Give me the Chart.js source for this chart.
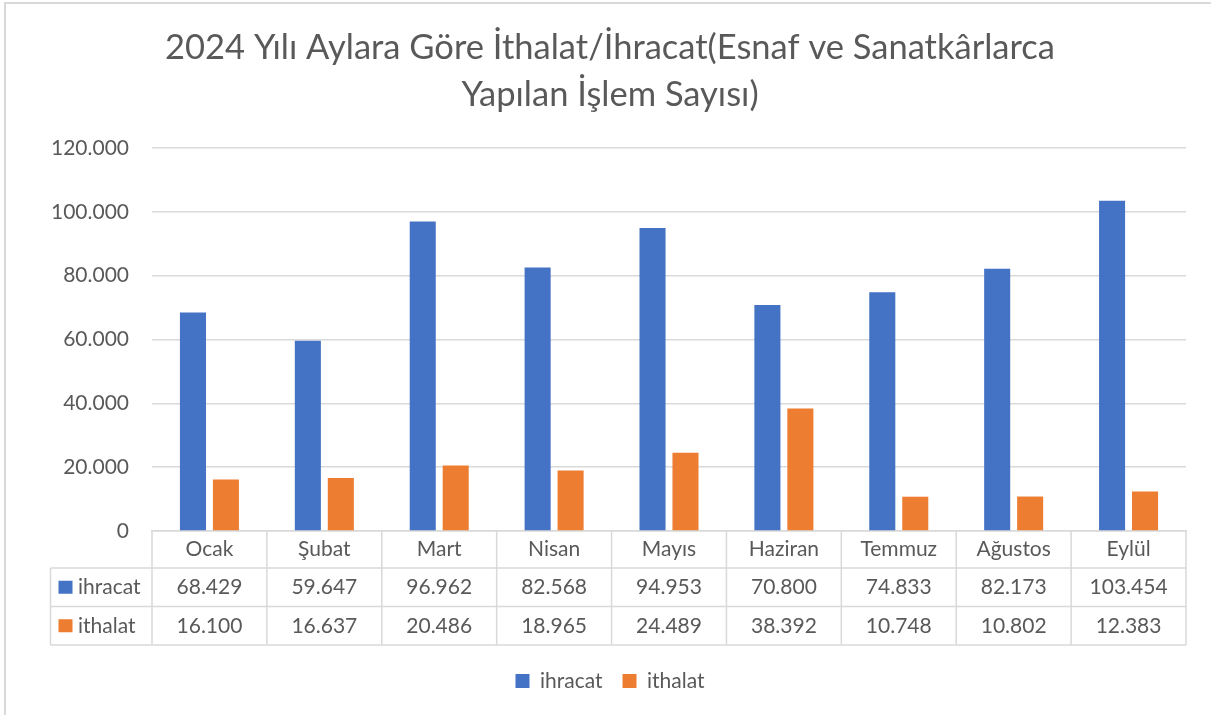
<!DOCTYPE html>
<html>
<head>
<meta charset="utf-8">
<script src="https://cdn.jsdelivr.net/npm/chart.js@4"></script>
<style>
  html, body { margin: 0; padding: 0; background: #fff; }
</style>
</head>
<body>
<canvas id="myChart" width="1211" height="715"></canvas>
<script>
// veriler
var aylar = ['Ocak', 'Şubat', 'Mart', 'Nisan', 'Mayıs', 'Haziran', 'Temmuz', 'Ağustos', 'Eylül'];
var ihracat = [68429, 59647, 96962, 82568, 94953, 70800, 74833, 82173, 103454];
var ithalat = [16100, 16637, 20486, 18965, 24489, 38392, 10748, 10802, 12383];
var seriAdlari = ['ihracat', 'ithalat'];
var renkler = ['#4472C4', '#ED7D31'];
var baslik = ['2024 Yılı Aylara Göre İthalat/İhracat(Esnaf ve Sanatkârlarca', 'Yapılan İşlem Sayısı)'];

var yazi = '#595959';
var cizgi = '#d9d9d9';

function noktali(v) {
    return String(v).replace(/\B(?=(\d{3})+(?!\d))/g, '.');
}

Chart.defaults.font.family = 'Lato';

// Excel'deki veri tablosu ve çerçeve
var tabloPlugin = {
    id: 'veriTablosu',
    afterDraw: function(chart) {
        var ctx = chart.ctx;
        var ca = chart.chartArea;
        var x = chart.scales.x;
        var n = aylar.length;
        var yarim = (x.getPixelForValue(1) - x.getPixelForValue(0)) / 2;
        var solKenar = 50.5;
        var y0 = ca.bottom, y1 = y0 + 37, y2 = y1 + 38.5, y3 = y2 + 38.5;

        ctx.save();
        ctx.strokeStyle = cizgi;
        ctx.lineWidth = 1.5;
        ctx.beginPath();
        for (var i = 0; i <= n; i++) {
            var bx = i < n ? x.getPixelForValue(i) - yarim : x.getPixelForValue(n - 1) + yarim;
            ctx.moveTo(bx, y0);
            ctx.lineTo(bx, y3);
        }
        ctx.moveTo(solKenar, y1); ctx.lineTo(solKenar, y3);
        [y1, y2, y3].forEach(function(yy) {
            ctx.moveTo(solKenar, yy);
            ctx.lineTo(ca.right, yy);
        });
        ctx.stroke();

        ctx.font = '21px Lato';
        ctx.fillStyle = yazi;
        ctx.textBaseline = 'middle';
        ctx.textAlign = 'center';
        aylar.forEach(function(a, i) {
            var cx = x.getPixelForValue(i);
            ctx.fillText(a, cx, (y0 + y1) / 2);
            ctx.fillText(noktali(ihracat[i]), cx, (y1 + y2) / 2);
            ctx.fillText(noktali(ithalat[i]), cx, (y2 + y3) / 2);
        });

        ctx.textAlign = 'left';
        [[y1, y2], [y2, y3]].forEach(function(r, k) {
            var my = (r[0] + r[1]) / 2;
            ctx.fillStyle = renkler[k];
            ctx.fillRect(58.5, my - 6.5, 14, 13);
            ctx.fillStyle = yazi;
            ctx.fillText(seriAdlari[k], 78, my);
        });

        // grafik çerçevesi (üst ve sol)
        ctx.strokeStyle = cizgi;
        ctx.lineWidth = 2;
        ctx.beginPath();
        ctx.moveTo(5, 715);
        ctx.lineTo(5, 3);
        ctx.lineTo(1211, 3);
        ctx.stroke();
        ctx.restore();
    }
};

var data = {
    labels: aylar,
    datasets: [{
        label: seriAdlari[0],
        data: ihracat,
        backgroundColor: renkler[0],
        categoryPercentage: 0.574,
        barPercentage: 0.79
    }, {
        label: seriAdlari[1],
        data: ithalat,
        backgroundColor: renkler[1],
        categoryPercentage: 0.574,
        barPercentage: 0.79
    }]
};

var options = {
    responsive: false,
    animation: false,
    layout: {
        padding: { top: 0, left: 34, right: 25, bottom: 13.5 }
    },
    plugins: {
        title: {
            display: true,
            text: baslik,
            color: yazi,
            font: { size: 34.5, weight: 'normal', lineHeight: 1.36 },
            padding: { top: 24.5, bottom: 29.7 }
        },
        legend: {
            position: 'bottom',
            labels: {
                color: yazi,
                font: { size: 21 },
                boxWidth: 14,
                boxHeight: 14,
                padding: 20
            }
        },
        tooltip: { enabled: false }
    },
    scales: {
        x: {
            ticks: { display: false },
            grid: { display: false },
            border: { display: true, color: cizgi, width: 1.5 },
            afterFit: function(scale) { scale.height = 119.5; }
        },
        y: {
            min: 0,
            max: 120000,
            ticks: {
                stepSize: 20000,
                color: yazi,
                font: { size: 21 },
                padding: 23,
                callback: function(v) { return noktali(v); }
            },
            grid: { color: cizgi, lineWidth: 1.5, drawTicks: false },
            border: { display: false },
            afterFit: function(scale) { scale.width = 118; }
        }
    }
};

var ctx = document.getElementById('myChart').getContext('2d');
var myChart = new Chart(ctx, {
    type: 'bar',
    data: data,
    options: options,
    plugins: [tabloPlugin]
});
</script>
</body>
</html>
